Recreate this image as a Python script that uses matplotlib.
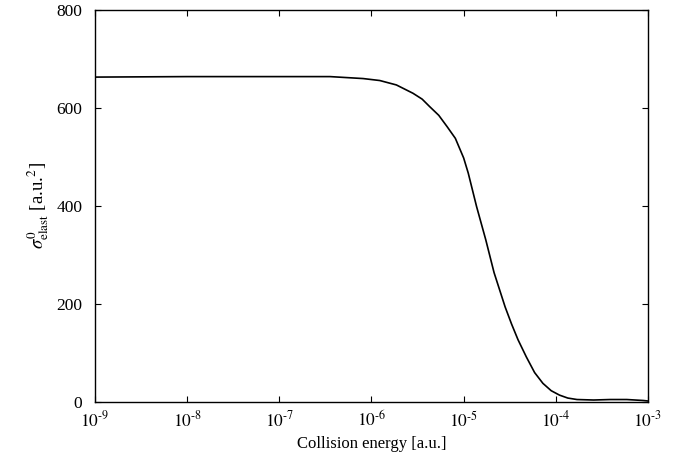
import numpy as np
import matplotlib
matplotlib.use("Agg")
import matplotlib.pyplot as plt

# log10 of collision energy [a.u.] and elastic cross section [a.u.^2]
log_energy = [-9.0, -8.0, -7.0, -6.45, -6.09, -5.91, -5.73, -5.55, -5.45, -5.37, -5.27,
              -5.18, -5.09, -5.0, -4.95, -4.86, -4.76, -4.67, -4.55, -4.48, -4.41,
              -4.32, -4.23, -4.14, -4.05, -3.96, -3.87, -3.77, -3.59,
              -3.41, -3.23, -3.05, -3.0]
sigma = [663, 664, 664, 664, 660, 656, 647, 630, 618, 603, 585,
         562, 538, 498, 467, 399, 331, 264, 194, 159, 127,
         92, 60, 38, 23, 14, 8, 5, 4,
         5, 5, 3, 2]
energy = 10.0 ** np.array(log_energy)

plt.rcParams['font.family'] = ['Liberation Serif', 'DejaVu Serif']
plt.rcParams['mathtext.fontset'] = 'stix'

fig = plt.figure(figsize=(6.81, 4.57), dpi=100)
ax = fig.add_axes([0.1395, 0.1204, 0.812, 0.8578])
ax.plot(energy, sigma, color='black', lw=1.2)
ax.set_xscale('log')
ax.set_xlim(1e-9, 1e-3)
ax.set_ylim(0, 800)
ax.set_xticks([1e-9, 1e-8, 1e-7, 1e-6, 1e-5, 1e-4, 1e-3])
ax.set_xticklabels(['$10^{\u2010%d}$' % -k for k in range(-9, -2)])
ax.minorticks_off()
ax.set_yticks([0, 200, 400, 600, 800])
ax.tick_params(direction='in', top=True, right=True, length=4, labelsize=12.5)
ax.tick_params(axis='y', pad=9)
ax.tick_params(axis='x', pad=6)
ax.set_xlabel('Collision energy [a.u.]', fontsize=12)
ax.set_ylabel(r'$\sigma^{0}_{\rm elast}$ [a.u.$^2$]', fontsize=13.5)
for s in ax.spines.values():
    s.set_linewidth(1.0)
fig.savefig('out.png', dpi=100)
